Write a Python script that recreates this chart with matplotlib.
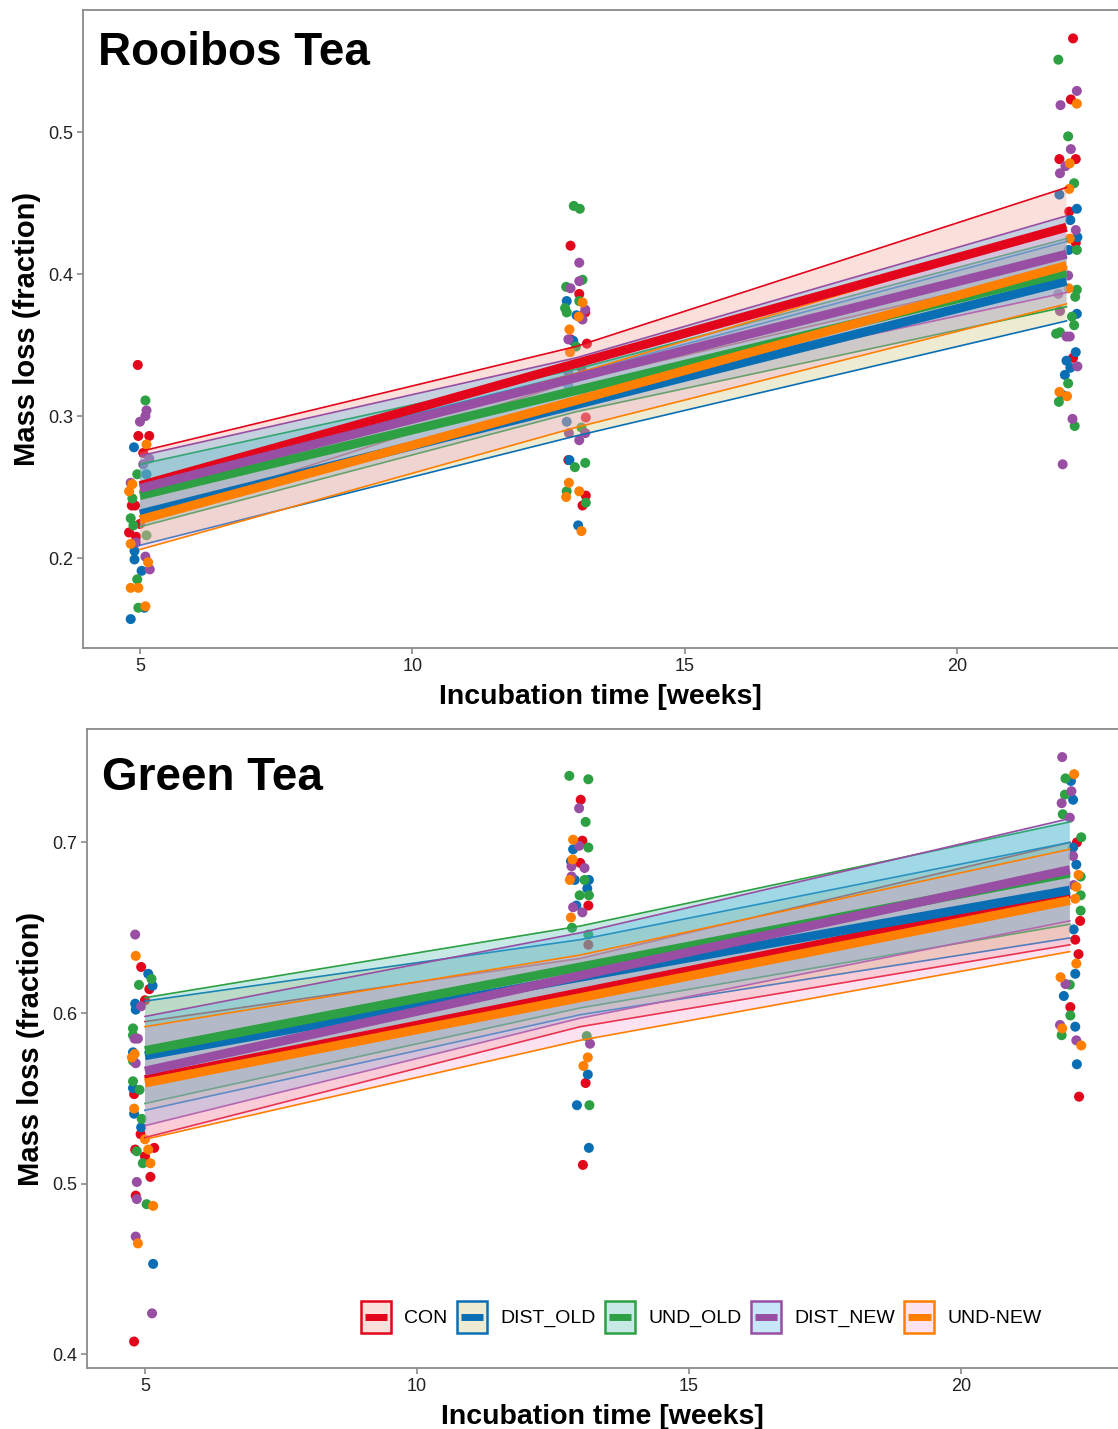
import matplotlib

matplotlib.use("Agg")
import matplotlib.pyplot as plt
from matplotlib.legend_handler import HandlerBase
from matplotlib.lines import Line2D
from matplotlib.patches import Rectangle

plt.rcParams["font.family"] = ["Liberation Sans", "DejaVu Sans"]

groups = ["CON", "DIST_OLD", "UND_OLD", "DIST_NEW", "UND-NEW"]
line_colors = ["#E3051B", "#0A6EB4", "#2CA042", "#984EA3", "#FF7F00"]
fill_colors = ["#F5988A", "#C6BE6B", "#48B9AC", "#48B2E8", "#FAA1D1"]

fit_x = [5, 13, 22]

# Rooibos tea: fitted line and half-width of the ribbon at weeks 5, 13, 22
rooibos_fit = {
    "CON": [0.251, 0.337, 0.433],
    "DIST_OLD": [0.231, 0.308, 0.395],
    "UND_OLD": [0.244, 0.318, 0.401],
    "DIST_NEW": [0.249, 0.327, 0.414],
    "UND-NEW": [0.227, 0.311, 0.406],
}
rooibos_hw = {
    "CON": [0.024, 0.012, 0.028],
    "DIST_OLD": [0.022, 0.022, 0.028],
    "UND_OLD": [0.022, 0.015, 0.024],
    "DIST_NEW": [0.023, 0.014, 0.027],
    "UND-NEW": [0.021, 0.019, 0.027],
}

green_fit = {
    "CON": [0.561, 0.612, 0.670],
    "DIST_OLD": [0.575, 0.621, 0.672],
    "UND_OLD": [0.578, 0.627, 0.682],
    "DIST_NEW": [0.566, 0.622, 0.684],
    "UND-NEW": [0.559, 0.609, 0.666],
}
green_hw = {
    "CON": [0.034, 0.020, 0.030],
    "DIST_OLD": [0.032, 0.022, 0.028],
    "UND_OLD": [0.031, 0.024, 0.030],
    "DIST_NEW": [0.032, 0.025, 0.030],
    "UND-NEW": [0.033, 0.025, 0.030],
}

# raw (jittered) observations: (week, mass loss)
rooibos_points = {
    "CON": [(4.96, 0.336), (4.97, 0.286), (5.17, 0.286), (5.06, 0.274), (4.85, 0.237), (4.91, 0.237),
            (5.0, 0.224), (4.80, 0.218), (4.93, 0.215),
            (12.90, 0.420), (13.06, 0.386), (13.17, 0.373), (12.90, 0.354), (13.20, 0.351), (13.10, 0.334),
            (13.18, 0.299), (12.86, 0.269), (13.18, 0.244), (13.12, 0.237),
            (22.12, 0.566), (22.08, 0.523), (21.87, 0.481), (22.17, 0.481), (22.05, 0.444), (22.17, 0.422),
            (22.12, 0.341)],
    "DIST_OLD": [(4.89, 0.278), (5.12, 0.259), (4.90, 0.205), (4.90, 0.199), (5.03, 0.191), (5.08, 0.165),
                 (4.83, 0.157),
                 (12.83, 0.381), (13.01, 0.371), (12.95, 0.353), (12.86, 0.321), (12.83, 0.296), (12.88, 0.269),
                 (13.04, 0.223),
                 (21.87, 0.456), (22.19, 0.446), (22.07, 0.438), (22.20, 0.426), (22.04, 0.417), (22.19, 0.372),
                 (22.17, 0.345), (22.0, 0.339), (22.07, 0.334), (21.97, 0.329), (21.92, 0.315)],
    "UND_OLD": [(5.10, 0.311), (4.95, 0.259), (4.86, 0.242), (4.83, 0.228), (4.88, 0.223), (5.12, 0.216),
                (4.95, 0.185), (4.97, 0.165),
                (12.96, 0.448), (13.07, 0.446), (13.12, 0.396), (12.82, 0.391), (13.06, 0.381), (12.80, 0.376),
                (12.83, 0.373), (13.0, 0.349), (13.10, 0.292), (13.17, 0.267), (12.98, 0.264), (12.83, 0.247),
                (13.18, 0.239),
                (21.85, 0.551), (22.03, 0.497), (22.14, 0.464), (22.19, 0.417), (22.19, 0.389), (22.16, 0.384),
                (22.10, 0.370), (22.14, 0.364), (21.81, 0.358), (21.88, 0.359), (22.03, 0.323), (21.86, 0.310),
                (22.15, 0.293)],
    "DIST_NEW": [(5.12, 0.304), (5.10, 0.300), (5.0, 0.296), (5.17, 0.270), (5.06, 0.266), (4.83, 0.253),
                 (4.93, 0.211), (5.10, 0.201), (5.18, 0.192),
                 (13.06, 0.408), (13.06, 0.395), (12.90, 0.390), (13.17, 0.375), (13.12, 0.368), (12.86, 0.354),
                 (12.86, 0.331), (12.87, 0.288), (13.06, 0.283), (13.17, 0.288),
                 (22.19, 0.529), (21.89, 0.519), (22.08, 0.488), (21.98, 0.476), (21.88, 0.471), (22.17, 0.431),
                 (22.03, 0.399), (21.85, 0.386), (21.88, 0.374), (22.0, 0.356), (22.06, 0.356), (22.20, 0.335),
                 (22.11, 0.298), (21.93, 0.266)],
    "UND-NEW": [(5.12, 0.280), (4.86, 0.252), (4.80, 0.247), (4.83, 0.210), (5.15, 0.197), (4.83, 0.179),
                (4.97, 0.179), (5.10, 0.166),
                (13.12, 0.380), (13.05, 0.370), (12.88, 0.361), (12.89, 0.345), (13.17, 0.315), (12.87, 0.253),
                (12.82, 0.243), (13.06, 0.247), (13.10, 0.219),
                (22.19, 0.520), (22.06, 0.478), (22.05, 0.460), (22.06, 0.425), (22.04, 0.390), (21.87, 0.317),
                (22.01, 0.314)],
}

green_points = {
    "CON": [(4.93, 0.627), (5.08, 0.614), (5.0, 0.6075), (4.80, 0.5525), (4.92, 0.529), (5.17, 0.521),
            (4.82, 0.520), (5.0, 0.516), (5.10, 0.504), (4.83, 0.493), (4.80, 0.4075),
            (13.01, 0.725), (13.04, 0.701), (13.0, 0.688), (13.15, 0.663), (13.15, 0.640), (13.10, 0.559),
            (13.05, 0.511),
            (22.13, 0.700), (22.19, 0.654), (22.10, 0.643), (22.16, 0.6345), (22.01, 0.6035), (22.17, 0.551)],
    "DIST_OLD": [(5.06, 0.623), (5.14, 0.616), (4.82, 0.6055), (4.83, 0.602), (4.78, 0.577), (4.78, 0.556),
                 (4.80, 0.541), (4.93, 0.533), (5.15, 0.453),
                 (12.87, 0.696), (12.83, 0.689), (12.90, 0.678), (13.16, 0.678), (13.13, 0.673), (12.93, 0.663),
                 (13.14, 0.564), (12.94, 0.546), (13.16, 0.521),
                 (22.02, 0.736), (22.06, 0.725), (22.06, 0.697), (22.12, 0.687), (22.07, 0.649), (22.10, 0.623),
                 (21.89, 0.610), (22.10, 0.592), (22.13, 0.570)],
    "UND_OLD": [(5.12, 0.620), (4.89, 0.6165), (4.78, 0.591), (4.78, 0.587), (4.78, 0.572), (4.78, 0.560),
                (4.90, 0.555), (4.94, 0.538), (4.85, 0.519), (4.96, 0.512), (5.03, 0.488),
                (12.80, 0.739), (13.15, 0.737), (13.10, 0.712), (13.15, 0.697), (13.08, 0.678), (12.99, 0.669),
                (13.16, 0.669), (12.85, 0.650), (13.15, 0.646), (13.12, 0.5865), (13.17, 0.546),
                (21.92, 0.7375), (21.91, 0.728), (21.87, 0.7165), (22.21, 0.703), (22.20, 0.680), (22.20, 0.669),
                (22.20, 0.660), (22.0, 0.6166), (22.01, 0.5986), (21.85, 0.587)],
    "DIST_NEW": [(4.82, 0.646), (4.93, 0.604), (4.81, 0.585), (4.87, 0.585), (4.83, 0.5706), (4.85, 0.501),
                 (4.85, 0.491), (4.83, 0.469), (5.13, 0.424),
                 (12.98, 0.720), (12.98, 0.698), (12.84, 0.686), (13.08, 0.685), (12.84, 0.680), (12.87, 0.662),
                 (13.04, 0.659), (13.18, 0.582),
                 (21.86, 0.750), (22.03, 0.730), (21.85, 0.723), (22.0, 0.7145), (22.06, 0.692), (22.07, 0.675),
                 (21.92, 0.617), (21.82, 0.593), (22.12, 0.584)],
    "UND-NEW": [(4.83, 0.6335), (4.76, 0.574), (4.81, 0.576), (4.80, 0.544), (5.0, 0.526), (5.06, 0.520),
                (5.10, 0.512), (5.15, 0.487), (4.87, 0.465),
                (12.87, 0.7016), (12.86, 0.690), (12.81, 0.678), (12.83, 0.656), (13.14, 0.574), (13.06, 0.569),
                (22.08, 0.740), (22.16, 0.681), (22.12, 0.674), (22.10, 0.667), (22.12, 0.629), (21.83, 0.621),
                (21.86, 0.591), (22.21, 0.581)],
}

x_ticks = [5, 10, 15, 20]
rooibos_yticks = [0.2, 0.3, 0.4, 0.5]
green_yticks = [0.4, 0.5, 0.6, 0.7]

FRAME = "#8a8a8a"
RIBBON_ALPHA = 0.3


class LegendKey:
    def __init__(self, color, fill):
        self.color = color
        self.fill = fill


class KeyHandler(HandlerBase):
    # ggplot-style key: tinted box, coloured border, thick line through the middle
    def create_artists(self, legend, orig_handle, xdescent, ydescent, width, height, fontsize, trans):
        x0, y0 = -xdescent, -ydescent
        bg = Rectangle((x0, y0), width, height, facecolor=orig_handle.fill, alpha=RIBBON_ALPHA,
                       edgecolor="none", transform=trans)
        border = Rectangle((x0, y0), width, height, facecolor="none", edgecolor=orig_handle.color,
                           linewidth=1.8, transform=trans)
        inset = 0.12 * width
        yc = y0 + height / 2
        line = Line2D([x0 + inset, x0 + width - inset], [yc, yc], color=orig_handle.color, lw=5,
                      solid_capstyle="butt", transform=trans)
        return [bg, border, line]


def draw_panel(ax, points, fit, hw, title, title_y, xlim, ylim, yticks):
    for name, color in zip(groups, line_colors):
        xs = [p[0] for p in points[name]]
        ys = [p[1] for p in points[name]]
        ax.scatter(xs, ys, s=52, color=color, edgecolors="none", zorder=1)
    for i, (name, color, fill) in enumerate(zip(groups, line_colors, fill_colors)):
        lo = [f - h for f, h in zip(fit[name], hw[name])]
        hi = [f + h for f, h in zip(fit[name], hw[name])]
        ax.fill_between(fit_x, lo, hi, facecolor=fill, alpha=RIBBON_ALPHA, edgecolor="none", zorder=2 + i)
        ax.plot(fit_x, lo, color=color, lw=1.2, zorder=2 + i)
        ax.plot(fit_x, hi, color=color, lw=1.2, zorder=2 + i)
    # fitted lines sit above every ribbon
    for i, (name, color) in enumerate(zip(groups, line_colors)):
        ax.plot(fit_x, fit[name], color=color, lw=6.5, solid_capstyle="butt", zorder=10 + i)
    ax.set_xlim(*xlim)
    ax.set_ylim(*ylim)
    ax.set_xticks(x_ticks)
    ax.set_yticks(yticks)
    ax.set_yticklabels([f"{v:.1f}" for v in yticks])
    ax.tick_params(labelsize=13, length=4, width=1.2, color=FRAME, labelcolor="#222222", pad=3)
    for side in ["left", "bottom", "top"]:
        ax.spines[side].set_color(FRAME)
        ax.spines[side].set_linewidth(1.3)
    ax.spines["right"].set_visible(False)
    ax.set_xlabel("Incubation time [weeks]", fontsize=20.5, fontweight="bold", labelpad=7)
    ax.set_ylabel("Mass loss (fraction)", fontsize=21, fontweight="bold", labelpad=5)
    ax.text(0.015, title_y, title, transform=ax.transAxes, fontsize=33, fontweight="bold",
            ha="left", va="top")


fig = plt.figure(figsize=(11.18, 14.29), dpi=100)
ax_top = fig.add_axes([0.0742, 0.5465, 0.9258, 0.4465])
ax_bot = fig.add_axes([0.0778, 0.0427, 0.9222, 0.4472])

draw_panel(ax_top, rooibos_points, rooibos_fit, rooibos_hw, "Rooibos Tea", 0.967,
           (3.954, 22.945), (0.1366, 0.586), rooibos_yticks)
draw_panel(ax_bot, green_points, green_fit, green_hw, "Green Tea", 0.958,
           (3.934, 22.886), (0.392, 0.7665), green_yticks)

handles = [LegendKey(c, f) for c, f in zip(line_colors, fill_colors)]
ax_bot.legend(handles, groups, handler_map={LegendKey: KeyHandler()}, ncol=5, loc="center right",
              bbox_to_anchor=(0.926, 0.08), frameon=False, fontsize=14, handlelength=1.54,
              handleheight=2.15, columnspacing=0.5, handletextpad=0.67, borderpad=0, borderaxespad=0)

fig.savefig("out.png", dpi=100)
